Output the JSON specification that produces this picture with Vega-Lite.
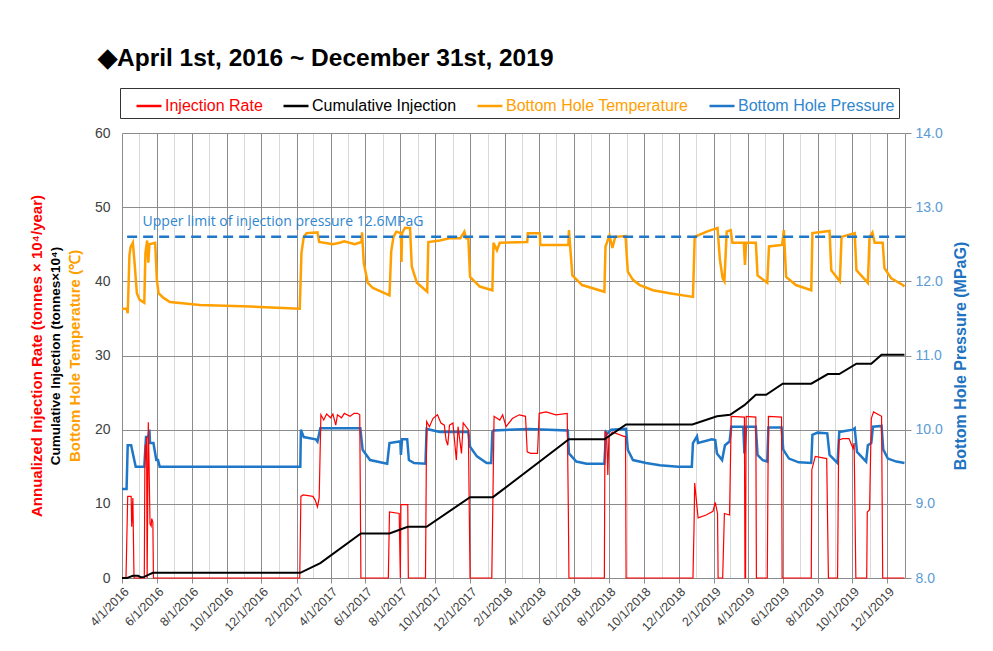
{
  "$schema": "https://vega.github.io/schema/vega-lite/v6.json",
  "width": 783,
  "height": 445,
  "autosize": "none",
  "padding": {"left": 122, "top": 133, "right": 88, "bottom": 73},
  "background": "white",
  "title": {
    "text": "◆April 1st, 2016 ~ December 31st, 2019",
    "anchor": "start",
    "frame": "group",
    "dx": -24,
    "offset": 16,
    "fontSize": 24.5,
    "fontWeight": "bold",
    "font": "Liberation Sans",
    "color": "#000000"
  },
  "datasets": {
    "temp": [
      {"date": "2016-04-01", "v": 36.3}, {"date": "2016-04-09", "v": 36.3}, {"date": "2016-04-11", "v": 35.7},
      {"date": "2016-04-14", "v": 43.5}, {"date": "2016-04-16", "v": 44.6}, {"date": "2016-04-20", "v": 45.2},
      {"date": "2016-04-23", "v": 42.5}, {"date": "2016-04-27", "v": 38.4}, {"date": "2016-05-02", "v": 37.5},
      {"date": "2016-05-10", "v": 37.1}, {"date": "2016-05-12", "v": 43.8}, {"date": "2016-05-15", "v": 45.5},
      {"date": "2016-05-17", "v": 42.5}, {"date": "2016-05-19", "v": 45.0}, {"date": "2016-05-29", "v": 45.2},
      {"date": "2016-06-01", "v": 40.2}, {"date": "2016-06-04", "v": 38.4}, {"date": "2016-06-12", "v": 37.8},
      {"date": "2016-06-24", "v": 37.2}, {"date": "2016-08-15", "v": 36.8}, {"date": "2016-11-12", "v": 36.6},
      {"date": "2017-02-06", "v": 36.3}, {"date": "2017-02-09", "v": 43.8}, {"date": "2017-02-13", "v": 46.0},
      {"date": "2017-02-18", "v": 46.5}, {"date": "2017-03-09", "v": 46.6}, {"date": "2017-03-12", "v": 45.3},
      {"date": "2017-04-05", "v": 45.0}, {"date": "2017-04-17", "v": 45.2}, {"date": "2017-04-25", "v": 45.4},
      {"date": "2017-05-13", "v": 45.0}, {"date": "2017-05-25", "v": 45.3}, {"date": "2017-05-26", "v": 46.6},
      {"date": "2017-05-29", "v": 42.5}, {"date": "2017-06-05", "v": 39.8}, {"date": "2017-06-14", "v": 39.1},
      {"date": "2017-07-13", "v": 38.1}, {"date": "2017-07-16", "v": 44.0}, {"date": "2017-07-20", "v": 46.0},
      {"date": "2017-07-25", "v": 46.7}, {"date": "2017-08-02", "v": 46.5}, {"date": "2017-08-03", "v": 42.6},
      {"date": "2017-08-04", "v": 46.5}, {"date": "2017-08-09", "v": 47.2}, {"date": "2017-08-18", "v": 47.2},
      {"date": "2017-08-21", "v": 42.0}, {"date": "2017-08-30", "v": 39.8}, {"date": "2017-09-17", "v": 38.6},
      {"date": "2017-09-19", "v": 45.3}, {"date": "2017-10-09", "v": 45.5}, {"date": "2017-10-26", "v": 45.8},
      {"date": "2017-11-14", "v": 45.8}, {"date": "2017-11-21", "v": 46.7}, {"date": "2017-11-24", "v": 45.8},
      {"date": "2017-11-28", "v": 45.8}, {"date": "2017-12-01", "v": 40.6}, {"date": "2017-12-18", "v": 39.3},
      {"date": "2018-01-09", "v": 38.8}, {"date": "2018-01-11", "v": 45.2}, {"date": "2018-01-17", "v": 44.2},
      {"date": "2018-01-22", "v": 45.2}, {"date": "2018-03-11", "v": 45.3}, {"date": "2018-03-12", "v": 46.5},
      {"date": "2018-04-02", "v": 46.5}, {"date": "2018-04-03", "v": 44.9}, {"date": "2018-05-22", "v": 44.9},
      {"date": "2018-05-23", "v": 46.9}, {"date": "2018-05-29", "v": 40.8}, {"date": "2018-06-15", "v": 39.5},
      {"date": "2018-07-24", "v": 38.6}, {"date": "2018-07-26", "v": 44.7}, {"date": "2018-08-02", "v": 46.2},
      {"date": "2018-08-07", "v": 44.5}, {"date": "2018-08-12", "v": 46.0}, {"date": "2018-08-30", "v": 46.1},
      {"date": "2018-09-03", "v": 41.3}, {"date": "2018-09-12", "v": 40.2}, {"date": "2018-09-24", "v": 39.5},
      {"date": "2018-10-17", "v": 38.8}, {"date": "2018-11-15", "v": 38.4}, {"date": "2018-12-26", "v": 37.9},
      {"date": "2018-12-29", "v": 46.0}, {"date": "2019-01-19", "v": 46.7}, {"date": "2019-02-07", "v": 47.2},
      {"date": "2019-02-11", "v": 43.0}, {"date": "2019-02-16", "v": 40.4}, {"date": "2019-02-19", "v": 40.0},
      {"date": "2019-02-23", "v": 46.7}, {"date": "2019-03-02", "v": 46.9}, {"date": "2019-03-05", "v": 45.2},
      {"date": "2019-03-25", "v": 45.2}, {"date": "2019-03-27", "v": 42.2}, {"date": "2019-03-29", "v": 45.2},
      {"date": "2019-04-15", "v": 45.2}, {"date": "2019-04-18", "v": 40.8}, {"date": "2019-05-05", "v": 39.8},
      {"date": "2019-05-08", "v": 44.7}, {"date": "2019-05-31", "v": 44.9}, {"date": "2019-06-03", "v": 46.9},
      {"date": "2019-06-07", "v": 40.6}, {"date": "2019-06-24", "v": 39.5}, {"date": "2019-07-21", "v": 38.8},
      {"date": "2019-07-23", "v": 46.5}, {"date": "2019-08-22", "v": 46.8}, {"date": "2019-08-25", "v": 41.5},
      {"date": "2019-09-09", "v": 40.0}, {"date": "2019-09-12", "v": 46.0}, {"date": "2019-10-05", "v": 46.5},
      {"date": "2019-10-08", "v": 41.5}, {"date": "2019-10-28", "v": 39.8}, {"date": "2019-10-31", "v": 46.0},
      {"date": "2019-11-05", "v": 46.6}, {"date": "2019-11-09", "v": 45.2}, {"date": "2019-11-23", "v": 45.2},
      {"date": "2019-11-26", "v": 41.8}, {"date": "2019-12-08", "v": 40.4}, {"date": "2019-12-28", "v": 39.5},
      {"date": "2019-12-31", "v": 39.3}
    ],
    "pressure": [
      {"date": "2016-04-01", "p": 9.20}, {"date": "2016-04-09", "p": 9.20}, {"date": "2016-04-11", "p": 9.79},
      {"date": "2016-04-17", "p": 9.79}, {"date": "2016-04-20", "p": 9.68}, {"date": "2016-04-25", "p": 9.50},
      {"date": "2016-05-10", "p": 9.50}, {"date": "2016-05-13", "p": 9.90}, {"date": "2016-05-17", "p": 9.90},
      {"date": "2016-05-19", "p": 10.00}, {"date": "2016-05-20", "p": 9.82}, {"date": "2016-05-26", "p": 9.82},
      {"date": "2016-05-31", "p": 9.59}, {"date": "2016-06-03", "p": 9.59}, {"date": "2016-06-06", "p": 9.50},
      {"date": "2017-02-07", "p": 9.50}, {"date": "2017-02-08", "p": 10.00}, {"date": "2017-02-13", "p": 9.90},
      {"date": "2017-03-06", "p": 9.87}, {"date": "2017-03-09", "p": 9.84}, {"date": "2017-03-14", "p": 10.02},
      {"date": "2017-04-17", "p": 10.02}, {"date": "2017-05-23", "p": 10.02}, {"date": "2017-05-27", "p": 9.73},
      {"date": "2017-06-09", "p": 9.59}, {"date": "2017-07-09", "p": 9.54}, {"date": "2017-07-13", "p": 9.82},
      {"date": "2017-07-30", "p": 9.84}, {"date": "2017-08-01", "p": 9.84}, {"date": "2017-08-02", "p": 9.66},
      {"date": "2017-08-04", "p": 9.87}, {"date": "2017-08-13", "p": 9.87}, {"date": "2017-08-16", "p": 9.59},
      {"date": "2017-08-25", "p": 9.55}, {"date": "2017-09-14", "p": 9.54}, {"date": "2017-09-16", "p": 10.01},
      {"date": "2017-10-09", "p": 9.97}, {"date": "2017-11-14", "p": 9.97}, {"date": "2017-11-28", "p": 9.97},
      {"date": "2017-12-01", "p": 9.77}, {"date": "2017-12-13", "p": 9.64}, {"date": "2017-12-30", "p": 9.55},
      {"date": "2018-01-07", "p": 9.55}, {"date": "2018-01-09", "p": 9.97}, {"date": "2018-01-11", "p": 9.99},
      {"date": "2018-03-14", "p": 10.01}, {"date": "2018-05-21", "p": 9.99}, {"date": "2018-05-23", "p": 9.68},
      {"date": "2018-06-05", "p": 9.57}, {"date": "2018-06-23", "p": 9.54}, {"date": "2018-07-24", "p": 9.54},
      {"date": "2018-07-27", "p": 9.97}, {"date": "2018-07-30", "p": 9.95}, {"date": "2018-08-05", "p": 10.00},
      {"date": "2018-08-31", "p": 10.01}, {"date": "2018-09-03", "p": 9.73}, {"date": "2018-09-12", "p": 9.59},
      {"date": "2018-10-05", "p": 9.55}, {"date": "2018-10-29", "p": 9.52}, {"date": "2018-11-30", "p": 9.50},
      {"date": "2018-12-24", "p": 9.50}, {"date": "2018-12-26", "p": 9.82}, {"date": "2019-01-02", "p": 9.91},
      {"date": "2019-01-04", "p": 9.82}, {"date": "2019-01-28", "p": 9.87}, {"date": "2019-02-03", "p": 9.86},
      {"date": "2019-02-06", "p": 9.68}, {"date": "2019-02-15", "p": 9.59}, {"date": "2019-02-20", "p": 9.79},
      {"date": "2019-02-28", "p": 9.84}, {"date": "2019-03-03", "p": 10.04}, {"date": "2019-03-24", "p": 10.04},
      {"date": "2019-03-26", "p": 9.68}, {"date": "2019-03-29", "p": 10.04}, {"date": "2019-04-15", "p": 10.04},
      {"date": "2019-04-18", "p": 9.66}, {"date": "2019-04-27", "p": 9.59}, {"date": "2019-05-05", "p": 9.57},
      {"date": "2019-05-07", "p": 10.03}, {"date": "2019-05-30", "p": 10.03}, {"date": "2019-06-02", "p": 9.73},
      {"date": "2019-06-12", "p": 9.61}, {"date": "2019-06-29", "p": 9.56}, {"date": "2019-07-21", "p": 9.55},
      {"date": "2019-07-23", "p": 9.93}, {"date": "2019-08-01", "p": 9.96}, {"date": "2019-08-18", "p": 9.95},
      {"date": "2019-08-22", "p": 9.66}, {"date": "2019-09-05", "p": 9.55}, {"date": "2019-09-08", "p": 9.97},
      {"date": "2019-10-02", "p": 10.00}, {"date": "2019-10-05", "p": 10.02}, {"date": "2019-10-09", "p": 9.70},
      {"date": "2019-10-25", "p": 9.57}, {"date": "2019-10-28", "p": 9.79}, {"date": "2019-11-03", "p": 9.82},
      {"date": "2019-11-06", "p": 10.04}, {"date": "2019-11-21", "p": 10.05}, {"date": "2019-11-24", "p": 9.73},
      {"date": "2019-12-02", "p": 9.61}, {"date": "2019-12-17", "p": 9.57}, {"date": "2019-12-31", "p": 9.55}
    ],
    "limit": [
      {"date": "2016-04-10", "end": "2020-01-01", "p": 12.6, "label": "Upper limit of injection pressure 12.6MPaG", "labelDate": "2016-05-07"}
    ],
    "rate": [
      {"date": "2016-04-01", "r": 0}, {"date": "2016-04-08", "r": 0}, {"date": "2016-04-11", "r": 11.0},
      {"date": "2016-04-17", "r": 11.0}, {"date": "2016-04-18", "r": 6.9}, {"date": "2016-04-20", "r": 10.8},
      {"date": "2016-04-22", "r": 0}, {"date": "2016-05-10", "r": 0}, {"date": "2016-05-11", "r": 15},
      {"date": "2016-05-12", "r": 18}, {"date": "2016-05-13", "r": 16}, {"date": "2016-05-14", "r": 19},
      {"date": "2016-05-15", "r": 0}, {"date": "2016-05-17", "r": 21}, {"date": "2016-05-18", "r": 17},
      {"date": "2016-05-20", "r": 7.3}, {"date": "2016-05-22", "r": 7.0}, {"date": "2016-05-23", "r": 8.0},
      {"date": "2016-05-25", "r": 7.5}, {"date": "2016-05-26", "r": 0}, {"date": "2017-02-06", "r": 0},
      {"date": "2017-02-08", "r": 11.0}, {"date": "2017-02-12", "r": 11.2}, {"date": "2017-03-01", "r": 11.0},
      {"date": "2017-03-05", "r": 10.5}, {"date": "2017-03-09", "r": 9.6}, {"date": "2017-03-12", "r": 10.8},
      {"date": "2017-03-15", "r": 22.0}, {"date": "2017-03-20", "r": 21.3}, {"date": "2017-03-25", "r": 22.1},
      {"date": "2017-04-01", "r": 21.6}, {"date": "2017-04-05", "r": 22.1}, {"date": "2017-04-10", "r": 20.6},
      {"date": "2017-04-13", "r": 22.0}, {"date": "2017-04-20", "r": 21.6}, {"date": "2017-04-25", "r": 22.2},
      {"date": "2017-05-05", "r": 21.8}, {"date": "2017-05-12", "r": 22.2}, {"date": "2017-05-18", "r": 22.2},
      {"date": "2017-05-22", "r": 22.0}, {"date": "2017-05-24", "r": 0}, {"date": "2017-07-11", "r": 0},
      {"date": "2017-07-13", "r": 8.9}, {"date": "2017-07-30", "r": 8.7}, {"date": "2017-08-01", "r": 0},
      {"date": "2017-08-02", "r": 9.9}, {"date": "2017-08-14", "r": 9.9}, {"date": "2017-08-15", "r": 0},
      {"date": "2017-09-14", "r": 0}, {"date": "2017-09-16", "r": 21.1}, {"date": "2017-09-21", "r": 20.4},
      {"date": "2017-09-27", "r": 21.5}, {"date": "2017-10-05", "r": 22.0}, {"date": "2017-10-11", "r": 20.9},
      {"date": "2017-10-17", "r": 20.6}, {"date": "2017-10-20", "r": 18.6}, {"date": "2017-10-23", "r": 17.9},
      {"date": "2017-10-26", "r": 20.6}, {"date": "2017-11-01", "r": 20.9}, {"date": "2017-11-07", "r": 15.9},
      {"date": "2017-11-10", "r": 20.4}, {"date": "2017-11-16", "r": 16.8}, {"date": "2017-11-19", "r": 20.9},
      {"date": "2017-11-28", "r": 20.0}, {"date": "2017-12-01", "r": 0}, {"date": "2018-01-08", "r": 0},
      {"date": "2018-01-12", "r": 21.8}, {"date": "2018-01-22", "r": 21.3}, {"date": "2018-01-27", "r": 22.0},
      {"date": "2018-02-02", "r": 20.4}, {"date": "2018-02-13", "r": 21.5}, {"date": "2018-02-25", "r": 22.0},
      {"date": "2018-03-08", "r": 21.8}, {"date": "2018-03-11", "r": 17.0}, {"date": "2018-03-17", "r": 16.8},
      {"date": "2018-03-29", "r": 16.8}, {"date": "2018-04-01", "r": 22.2}, {"date": "2018-04-13", "r": 22.4},
      {"date": "2018-04-30", "r": 22.0}, {"date": "2018-05-20", "r": 22.2}, {"date": "2018-05-22", "r": 8.8},
      {"date": "2018-05-23", "r": 0}, {"date": "2018-07-24", "r": 0}, {"date": "2018-07-25", "r": 19.7},
      {"date": "2018-07-28", "r": 19.5}, {"date": "2018-07-30", "r": 13.9}, {"date": "2018-08-01", "r": 19.1},
      {"date": "2018-08-07", "r": 19.7}, {"date": "2018-08-27", "r": 19.1}, {"date": "2018-08-30", "r": 19.1},
      {"date": "2018-08-31", "r": 0}, {"date": "2018-12-26", "r": 0}, {"date": "2018-12-28", "r": 7.4},
      {"date": "2018-12-29", "r": 12.8}, {"date": "2019-01-04", "r": 8.1}, {"date": "2019-01-18", "r": 8.5},
      {"date": "2019-01-30", "r": 9.0}, {"date": "2019-02-03", "r": 10.2}, {"date": "2019-02-07", "r": 8.7},
      {"date": "2019-02-08", "r": 0}, {"date": "2019-02-16", "r": 0}, {"date": "2019-02-19", "r": 8.7},
      {"date": "2019-02-28", "r": 8.5}, {"date": "2019-03-03", "r": 21.8}, {"date": "2019-03-26", "r": 21.7},
      {"date": "2019-03-27", "r": 0}, {"date": "2019-03-28", "r": 0}, {"date": "2019-03-29", "r": 21.8},
      {"date": "2019-04-15", "r": 21.7}, {"date": "2019-04-16", "r": 0}, {"date": "2019-05-05", "r": 0},
      {"date": "2019-05-07", "r": 21.8}, {"date": "2019-05-30", "r": 21.7}, {"date": "2019-05-31", "r": 0},
      {"date": "2019-07-21", "r": 0}, {"date": "2019-07-22", "r": 14.6}, {"date": "2019-07-28", "r": 16.4},
      {"date": "2019-08-17", "r": 16.1}, {"date": "2019-08-20", "r": 0}, {"date": "2019-09-05", "r": 0},
      {"date": "2019-09-07", "r": 18.6}, {"date": "2019-09-14", "r": 18.8}, {"date": "2019-09-25", "r": 18.8},
      {"date": "2019-10-02", "r": 17.5}, {"date": "2019-10-04", "r": 18.2}, {"date": "2019-10-07", "r": 0},
      {"date": "2019-10-26", "r": 0}, {"date": "2019-10-27", "r": 8.9}, {"date": "2019-10-31", "r": 9.2},
      {"date": "2019-11-03", "r": 21.5}, {"date": "2019-11-07", "r": 22.4}, {"date": "2019-11-21", "r": 21.8},
      {"date": "2019-11-23", "r": 0}, {"date": "2019-12-31", "r": 0}
    ],
    "cumulative": [
      {"date": "2016-04-01", "c": 0}, {"date": "2016-04-10", "c": 0}, {"date": "2016-04-20", "c": 0.3},
      {"date": "2016-04-29", "c": 0.3}, {"date": "2016-05-04", "c": 0.1}, {"date": "2016-05-10", "c": 0.15},
      {"date": "2016-05-16", "c": 0.4}, {"date": "2016-05-25", "c": 0.7}, {"date": "2017-02-07", "c": 0.7},
      {"date": "2017-03-14", "c": 2.0}, {"date": "2017-05-24", "c": 6.0}, {"date": "2017-07-13", "c": 6.0},
      {"date": "2017-08-14", "c": 6.9}, {"date": "2017-09-16", "c": 6.9}, {"date": "2017-12-01", "c": 10.9},
      {"date": "2018-01-10", "c": 10.9}, {"date": "2018-05-23", "c": 18.7}, {"date": "2018-07-24", "c": 18.7},
      {"date": "2018-08-31", "c": 20.7}, {"date": "2018-12-25", "c": 20.7}, {"date": "2019-02-06", "c": 21.8},
      {"date": "2019-03-01", "c": 22.0}, {"date": "2019-03-26", "c": 23.3}, {"date": "2019-04-15", "c": 24.7},
      {"date": "2019-05-03", "c": 24.7}, {"date": "2019-06-01", "c": 26.2}, {"date": "2019-07-21", "c": 26.2},
      {"date": "2019-08-19", "c": 27.5}, {"date": "2019-09-08", "c": 27.5}, {"date": "2019-10-08", "c": 28.9},
      {"date": "2019-11-03", "c": 28.9}, {"date": "2019-11-21", "c": 30.1}, {"date": "2019-12-31", "c": 30.1}
    ]
  },
  "encoding": {
    "x": {
      "field": "date",
      "type": "temporal",
      "scale": {
        "type": "utc",
        "domain": [
          {"year": 2016, "month": 4, "date": 1, "utc": true},
          {"year": 2020, "month": 1, "date": 1, "utc": true}
        ]
      },
      "axis": {
        "title": null,
        "tickCount": {"interval": "month", "step": 1},
        "format": "%-m/%-d/%Y",
        "labelExpr": "utcmonth(datum.value) % 2 == 1 ? datum.label : ''",
        "labelAngle": -45,
        "labelFontSize": 12.5,
        "labelFont": "Liberation Sans",
        "labelColor": "#404040",
        "labelOverlap": false,
        "labelPadding": 2,
        "grid": true,
        "gridWidth": 1,
        "gridColor": {"condition": {"test": "utcmonth(datum.value) % 2 == 1", "value": "#8c8c8c"}, "value": "#d9d9d9"},
        "ticks": true,
        "tickSize": 5,
        "tickColor": {"condition": {"test": "utcmonth(datum.value) % 2 == 1", "value": "#8c8c8c"}, "value": "#ffffff"},
        "domainColor": "#8c8c8c"
      }
    }
  },
  "layer": [
    {
      "data": {"name": "temp"},
      "mark": {"type": "line", "strokeWidth": 2.5},
      "encoding": {
        "y": {
          "field": "v",
          "type": "quantitative",
          "scale": {"domain": [0, 60], "nice": false},
          "axis": {
            "orient": "left",
            "labels": false,
            "ticks": false,
            "domain": false,
            "grid": false,
            "title": "Bottom Hole Temperature (℃)",
            "titleColor": "#ffa000",
            "titleFont": "Liberation Sans",
            "titleFontSize": 15,
            "titleFontWeight": "bold",
            "titlePadding": 40
          }
        },
        "color": {
          "datum": "Bottom Hole Temperature",
          "type": "nominal",
          "scale": {
            "domain": ["Injection Rate", "Cumulative Injection", "Bottom Hole Temperature", "Bottom Hole Pressure"],
            "range": ["#ff0000", "#000000", "#ffa000", "#1f77c8"]
          },
          "legend": {
            "orient": "none",
            "legendX": -2,
            "legendY": -45,
            "direction": "horizontal",
            "columns": 4,
            "title": null,
            "symbolType": "stroke",
            "symbolSize": 625,
            "symbolStrokeWidth": 2.5,
            "symbolOffset": 11,
            "labelFont": "Liberation Sans",
            "labelFontSize": 16,
            "labelOffset": 2,
            "labelLimit": 400,
            "labelColor": {"expr": "datum.label == 'Injection Rate' ? '#ff0000' : datum.label == 'Bottom Hole Temperature' ? '#ffa000' : datum.label == 'Bottom Hole Pressure' ? '#2e86d0' : '#000000'"},
            "columnPadding": 8,
            "padding": 4,
            "strokeColor": "#333333",
            "fillColor": "white"
          }
        }
      }
    },
    {
      "layer": [
        {
          "data": {"name": "pressure"},
          "mark": {"type": "line", "strokeWidth": 2.5},
          "encoding": {
            "y": {
              "field": "p",
              "type": "quantitative",
              "scale": {"domain": [8, 14], "nice": false},
              "axis": {
                "orient": "right",
                "values": [8, 9, 10, 11, 12, 13, 14],
                "format": ".1f",
                "grid": false,
                "domain": true,
                "domainColor": "#8c8c8c",
                "ticks": true,
                "tickColor": "#8c8c8c",
                "tickSize": 6,
                "labelPadding": 4,
                "labelFont": "Liberation Sans",
                "labelFontSize": 14,
                "labelColor": "#5b9bd5",
                "title": "Bottom Hole Pressure (MPaG)",
                "titleColor": "#1f73c0",
                "titleFont": "Liberation Sans",
                "titleFontSize": 16,
                "titleFontWeight": "bold",
                "titleAngle": -90,
                "titleBaseline": "top",
                "titlePadding": 10
              }
            },
            "color": {"datum": "Bottom Hole Pressure", "type": "nominal"}
          }
        },
        {
          "data": {"name": "limit"},
          "mark": {"type": "rule", "color": "#1f77c8", "strokeWidth": 2.5, "strokeDash": [10, 6]},
          "encoding": {
            "x2": {"field": "end"},
            "y": {"field": "p", "type": "quantitative"}
          }
        },
        {
          "data": {"name": "limit"},
          "mark": {"type": "text", "align": "left", "baseline": "alphabetic", "dy": -11, "font": "Open Sans", "fontSize": 14, "color": "#2e86d0"},
          "encoding": {
            "x": {"field": "labelDate", "type": "temporal"},
            "y": {"field": "p", "type": "quantitative"},
            "text": {"field": "label"}
          }
        }
      ]
    },
    {
      "data": {"name": "rate"},
      "mark": {"type": "line", "strokeWidth": 1.2},
      "encoding": {
        "y": {
          "field": "r",
          "type": "quantitative",
          "scale": {"domain": [0, 60], "nice": false},
          "axis": {
            "orient": "left",
            "values": [0, 10, 20, 30, 40, 50, 60],
            "labels": true,
            "ticks": false,
            "domain": false,
            "grid": true,
            "gridColor": "#8c8c8c",
            "labelPadding": 12,
            "labelFont": "Liberation Sans",
            "labelFontSize": 14,
            "labelColor": "#404040",
            "title": "Annualized Injection Rate (tonnes × 10⁴/year)",
            "titleColor": "#ff0000",
            "titleFont": "Liberation Sans",
            "titleFontSize": 15,
            "titleFontWeight": "bold",
            "titlePadding": 50
          }
        },
        "color": {"datum": "Injection Rate", "type": "nominal"}
      }
    },
    {
      "data": {"name": "cumulative"},
      "mark": {"type": "line", "strokeWidth": 2},
      "encoding": {
        "y": {
          "field": "c",
          "type": "quantitative",
          "scale": {"domain": [0, 60], "nice": false},
          "axis": {
            "orient": "left",
            "labels": false,
            "ticks": false,
            "domain": false,
            "grid": false,
            "title": "Cumulative Injection (tonnes×10⁴)",
            "titleColor": "#000000",
            "titleFont": "Liberation Sans",
            "titleFontSize": 13.5,
            "titleFontWeight": "bold",
            "titlePadding": 60
          }
        },
        "color": {"datum": "Cumulative Injection", "type": "nominal"}
      }
    }
  ],
  "resolve": {"scale": {"y": "independent"}},
  "config": {
    "font": "Liberation Sans",
    "view": {"stroke": null}
  }
}
